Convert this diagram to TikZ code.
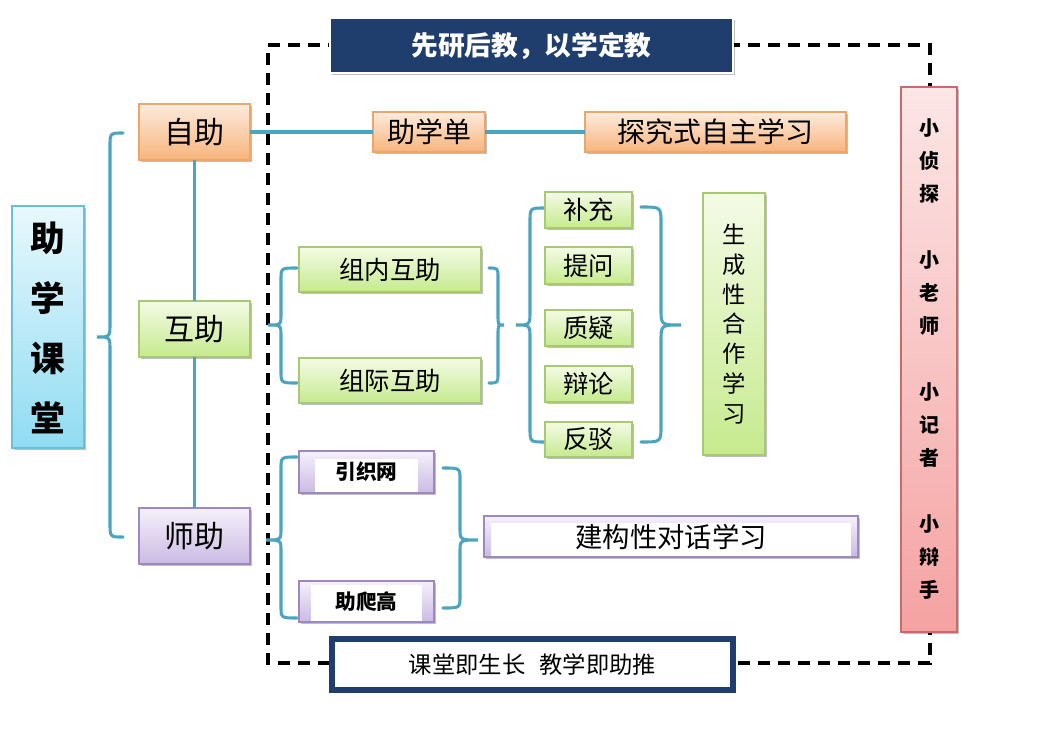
\documentclass[tikz,border=0pt]{standalone}
\usepackage{fontspec}
\setmainfont{Noto Sans CJK SC}
\usetikzlibrary{shadows}
\definecolor{ortop}{HTML}{FDEBDD}\definecolor{orbot}{HTML}{F8B47C}\definecolor{ordraw}{HTML}{EBA66C}
\definecolor{grtop}{HTML}{F4FBE6}\definecolor{grbot}{HTML}{C6EA8E}\definecolor{grdraw}{HTML}{A9C874}
\definecolor{putop}{HTML}{F5F1FA}\definecolor{pubot}{HTML}{CBBAE4}\definecolor{pudraw}{HTML}{9D88BF}
\definecolor{bltop}{HTML}{E8F8FD}\definecolor{blbot}{HTML}{90DCF2}\definecolor{bldraw}{HTML}{6CBFD5}
\definecolor{rdtop}{HTML}{FCE6E6}\definecolor{rdbot}{HTML}{F5A2A2}\definecolor{rddraw}{HTML}{C86B6B}
\definecolor{teal}{HTML}{4BA5C0}
\definecolor{navy}{HTML}{1F3E6E}
\newcommand\bx[7]{\node[#6, minimum width={(#4-#2)*0.75pt}, minimum height={(#5-#3)*0.75pt}] (#1) at ({(#2+#4)/2},{(#3+#5)/2}) {#7};}
\newcommand\brc[7]{\draw[bracestyle] (#1,#4) .. controls (#2,#4) .. (#2,{#4+#7}) -- (#2,{#5-#7}) .. controls (#2,#5) .. (#3,#5) .. controls (#2,#5) .. (#2,{#5+#7}) -- (#2,{#6-#7}) .. controls (#2,#6) .. (#1,#6);}
\tikzset{
  base/.style={inner sep=0pt, outer sep=0pt, line width=0.8pt, align=center,
     drop shadow={shadow xshift=1.3pt, shadow yshift=-1.3pt, opacity=0.25, fill=black}},
  orbox/.style={base, top color=ortop, bottom color=orbot, draw=ordraw},
  grbox/.style={base, top color=grtop, bottom color=grbot, draw=grdraw},
  pubox/.style={base, top color=putop, bottom color=pubot, draw=pudraw},
  blbox/.style={base, top color=bltop, bottom color=blbot, draw=bldraw},
  rdbox/.style={base, top color=rdtop, bottom color=rdbot, draw=rddraw},
  whitepatch/.style={path picture={\fill[white] ([shift={(#1)}]path picture bounding box.north west) rectangle ([shift={(-#1)}]path picture bounding box.south east);}},
  bracestyle/.style={draw=teal, line width=2.3pt, line cap=round},
  link/.style={draw=teal, line width=2.3pt},
  frame/.style={draw=black, line width=2.6pt, dash pattern=on 9pt off 6pt},
  t1/.style={font=\fontsize{22.5}{26}\selectfont},
  t2/.style={font=\fontsize{21}{25}\selectfont},
  t3/.style={font=\fontsize{19}{23}\selectfont},
}
\begin{document}
\begin{tikzpicture}[x=0.75pt,y=-0.75pt]
\useasboundingbox[fill=white] (0,0) rectangle (1046,738);
% dashed frame
\coordinate (f1) at (268,45); \coordinate (f2) at (930,45);
\coordinate (f3) at (930,663); \coordinate (f4) at (268,663);
\draw[frame] (f1) -- (f2) -- (f3) -- (f4) -- cycle;
% braces
\brc{123}{110}{97}{133}{337}{537}{14}
\brc{297}{281}{268}{268}{325}{383}{12}
\brc{489}{498}{504}{268}{325}{383}{10}
\brc{545}{530}{516}{208}{325}{442}{14}
\brc{641}{661}{681}{207}{325}{442}{16}
\brc{297}{281}{266}{457}{540}{618}{12}
\brc{443}{460}{478}{468}{540}{608}{12}
% main boxes
\bx{zxkt}{12}{206}{84}{448}{blbox, font=\fontsize{26}{45}\bfseries\selectfont, text depth=0pt}{助\\学\\课\\堂}
\bx{zizhu}{139}{104}{250}{160}{orbox, t1}{自助}
\bx{huzhu}{139}{301}{250}{357}{grbox, t1}{互助}
\bx{shizhu}{139}{508}{250}{564}{pubox, t1}{师助}
\draw[link] (zizhu) -- (huzhu) -- (shizhu);
\bx{zxd}{373}{112}{485}{152}{orbox, t2}{助学单}
\bx{tjs}{585}{112}{846}{152}{orbox, t2}{探究式自主学习}
\draw[link] (zizhu) -- (zxd) -- (tjs);
% banners
\bx{top}{330}{18}{733}{73}{base, fill=navy, draw=white, line width=2pt, text=white, font=\fontsize{20}{24}\bfseries\selectfont}{先研后教，以学定教}
\bx{bot}{332}{639}{733}{690}{base, fill=white, draw=navy, line width=4pt, font=\fontsize{17.5}{21}\selectfont}{\raisebox{-3pt}{课堂即生长\hspace{0.6em}教学即助推}}
% right red box
\bx{roles}{901}{87}{957}{632}{rdbox, font=\fontsize{15}{24.75}\bfseries\selectfont}{小\\侦\\探\\[24.75pt]小\\老\\师\\[24.75pt]小\\记\\者\\[24.75pt]小\\辩\\手}
% mutual help
\bx{znhz}{299}{247}{481}{292}{grbox, t3}{组内互助}
\bx{zjhz}{299}{358}{481}{403}{grbox, t3}{组际互助}
\bx{bc}{545}{192}{632}{228}{grbox, t3}{补充}
\bx{tw}{545}{247}{632}{284}{grbox, t3}{提问}
\bx{zy}{545}{310}{632}{346}{grbox, t3}{质疑}
\bx{bl}{545}{366}{632}{402}{grbox, t3}{辩论}
\bx{fb}{545}{422}{632}{457}{grbox, t3}{反驳}
\bx{scx}{703}{193}{765}{455}{grbox, font=\fontsize{17.5}{22.3}\selectfont}{生\\成\\性\\合\\作\\学\\习}
% teacher help
\bx{yzw}{299}{451}{434}{493}{pubox, whitepatch={12pt,-6pt}, font=\fontsize{15.5}{18}\bfseries\selectfont}{引织网}
\bx{zpg}{299}{581}{434}{622}{pubox, whitepatch={9pt,-3pt}, font=\fontsize{15.5}{18}\bfseries\selectfont}{助爬高}
\bx{jgx}{484}{516}{858}{557}{pubox, whitepatch={5pt,-5pt}, font=\fontsize{20.5}{24}\selectfont}{建构性对话学习}
\end{tikzpicture}
\end{document}
